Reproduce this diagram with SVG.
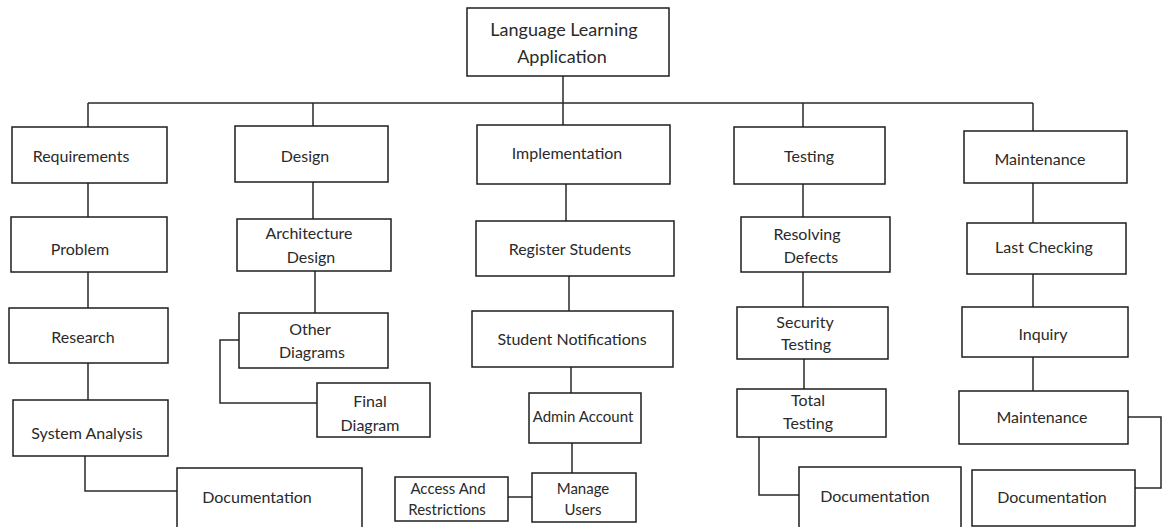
<svg xmlns="http://www.w3.org/2000/svg" width="1162" height="527" viewBox="0 0 1162 527">
<style>
.n rect{fill:#fff;stroke:#1e1e1e;stroke-width:1.5}
text{font-family:Lato,"Liberation Sans",sans-serif;font-size:16px;fill:#2a2a2a;text-anchor:middle}
.c path{fill:none;stroke:#2a2a2a;stroke-width:1.5}
</style>
<rect width="1162" height="527" fill="#fff"/>
<g class="c" id="connectors">
<path d="M563 76V125M88 103H1033M88 103V127M313 103V126M803 103V127M1033 103V131"/>
<path d="M88 183V217M88 272V308M88 363V400M85 456V491H177"/>
<path d="M313 182V219M315 271V313M239 340H220V403H317"/>
<path d="M566 184V221M569 276V311M571 367V393M572 443V473M508 497H532"/>
<path d="M803 184V217M803 272V307M804 359V389M759 437V495H799"/>
<path d="M1033 183V223M1033 274V307M1033 357V391M1128 417H1161V488H1135"/>
</g>
<g class="n" id="root"><rect x="467" y="8" width="202" height="68"/><text x="564" y="36" style="font-size:18px">Language Learning</text><text x="562" y="63" style="font-size:18px">Application</text></g>
<g class="n" id="requirements"><rect x="12" y="127" width="155" height="56"/><text x="81" y="162">Requirements</text></g>
<g class="n" id="design"><rect x="235" y="126" width="153" height="56"/><text x="305" y="162">Design</text></g>
<g class="n" id="implementation"><rect x="477" y="125" width="193" height="59"/><text x="567" y="159">Implementation</text></g>
<g class="n" id="testing"><rect x="734" y="127" width="151" height="57"/><text x="809" y="162">Testing</text></g>
<g class="n" id="maintenance"><rect x="964" y="131" width="163" height="52"/><text x="1040" y="165">Maintenance</text></g>
<g class="n" id="problem"><rect x="11" y="217" width="156" height="55"/><text x="80" y="255">Problem</text></g>
<g class="n" id="research"><rect x="9" y="308" width="159" height="55"/><text x="83" y="343">Research</text></g>
<g class="n" id="system-analysis"><rect x="13" y="400" width="155" height="56"/><text x="87" y="439">System Analysis</text></g>
<g class="n" id="documentation-1"><rect x="177" y="468" width="185" height="70"/><text x="257" y="503">Documentation</text></g>
<g class="n" id="architecture-design"><rect x="237" y="219" width="154" height="52"/><text x="309" y="239">Architecture</text><text x="311" y="263">Design</text></g>
<g class="n" id="other-diagrams"><rect x="239" y="313" width="149" height="55"/><text x="310" y="335">Other</text><text x="312" y="358">Diagrams</text></g>
<g class="n" id="final-diagram"><rect x="317" y="383" width="113" height="54"/><text x="370" y="407">Final</text><text x="370" y="431">Diagram</text></g>
<g class="n" id="register-students"><rect x="476" y="221" width="198" height="55"/><text x="570" y="255">Register Students</text></g>
<g class="n" id="student-notifications"><rect x="472" y="311" width="201" height="56"/><text x="572" y="345">Student Notifications</text></g>
<g class="n" id="admin-account"><rect x="529" y="393" width="112" height="50"/><text x="583" y="422" style="font-size:15px">Admin Account</text></g>
<g class="n" id="manage-users"><rect x="532" y="473" width="104" height="49"/><text x="583" y="494" style="font-size:15px">Manage</text><text x="583" y="515" style="font-size:15px">Users</text></g>
<g class="n" id="access-restrictions"><rect x="395" y="477" width="113" height="44"/><text x="448" y="494" style="font-size:15px">Access And</text><text x="447" y="515" style="font-size:15px">Restrictions</text></g>
<g class="n" id="resolving-defects"><rect x="741" y="217" width="149" height="55"/><text x="807" y="240">Resolving</text><text x="811" y="263">Defects</text></g>
<g class="n" id="security-testing"><rect x="737" y="307" width="151" height="52"/><text x="805" y="328">Security</text><text x="806" y="350">Testing</text></g>
<g class="n" id="total-testing"><rect x="737" y="389" width="149" height="48"/><text x="808" y="406">Total</text><text x="808" y="429">Testing</text></g>
<g class="n" id="documentation-2"><rect x="799" y="467" width="162" height="70"/><text x="875" y="502">Documentation</text></g>
<g class="n" id="last-checking"><rect x="967" y="223" width="159" height="51"/><text x="1044" y="253">Last Checking</text></g>
<g class="n" id="inquiry"><rect x="962" y="307" width="166" height="50"/><text x="1043" y="340">Inquiry</text></g>
<g class="n" id="maintenance-2"><rect x="959" y="391" width="169" height="53"/><text x="1042" y="423">Maintenance</text></g>
<g class="n" id="documentation-3"><rect x="972" y="470" width="163" height="56"/><text x="1052" y="503">Documentation</text></g>
</svg>
